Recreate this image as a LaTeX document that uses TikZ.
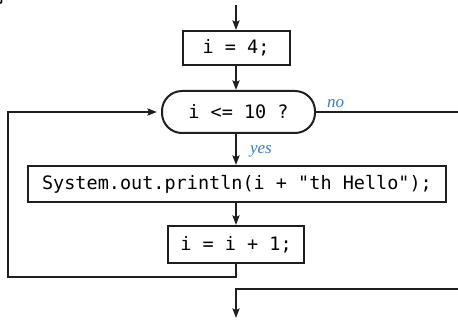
\documentclass[tikz,border=0pt]{standalone}
\usepackage{fontspec}
\setmainfont{Liberation Serif}
\newfontfamily\codefont{DejaVu Sans Mono}
\usetikzlibrary{arrows.meta}
\definecolor{labelblue}{RGB}{58,124,200}
\tikzset{
  x=1pt, y=-1pt,
  flow/.style={line width=2pt, draw=black!88},
  arr/.style={flow, -{Stealth[length=9.5pt,width=7pt,inset=1.5pt]}},
  stmt/.style={draw=black!88, line width=2pt, rectangle, inner sep=0pt,
    font=\codefont\fontsize{18.5}{20}\selectfont},
  cond/.style={stmt, rounded corners=20pt},
  branch/.style={font=\itshape\fontsize{17}{18}\selectfont, text=labelblue, inner sep=0pt}
}
\begin{document}
\begin{tikzpicture}
  \useasboundingbox (0,0) rectangle (458,320);
  % leftover closing brace from the preceding code block
  \node[anchor=base west, inner sep=0pt, font=\codefont\fontsize{18.5}{20}\selectfont] (brace) at (-4,2) {\}};

  % statements and condition
  \node[stmt, minimum width=107pt, minimum height=34pt] (init) at (236,48) {i = 4;};
  \node[cond, minimum width=153pt, minimum height=42pt] (test) at (238.5,112) {i <= 10 ?};
  \node[stmt, minimum width=418pt, minimum height=36pt] (body) at (237,184) {System.out.println(i + "th Hello");};
  \node[stmt, minimum width=136pt, minimum height=37pt] (incr) at (236,244.5) {i = i + 1;};

  % free ends of the connectors
  \coordinate (entry) at (236,5);
  \coordinate (exitR) at (458,112);
  \coordinate (backL) at (8,277);
  \coordinate (backT) at (8,112);
  \coordinate (outR) at (458,289);
  \coordinate (outC) at (236,289);
  \coordinate (outB) at (236,318);

  % main flow
  \draw[arr] (entry) -- (init.north);
  \draw[arr] (init.south) -- (init.south |- test.north);
  \draw[arr] (init.south |- test.south) -- (init.south |- body.north)
    node[branch, anchor=west, pos=0.55, xshift=13pt] (yes) {yes};
  \draw[arr] (init.south |- body.south) -- (incr.north);

  % loop back to the test
  \draw[arr] (incr.south) |- (backL) -- (backT) -- ([xshift=-4pt]test.west);

  % exit branch
  \draw[flow] (test.east) -- (exitR);
  \node[branch, anchor=south west] (no) at ([xshift=11pt,yshift=4pt]test.east) {no};
  \draw[arr] (outR) -- (outC) -- (outB);
\end{tikzpicture}
\end{document}
